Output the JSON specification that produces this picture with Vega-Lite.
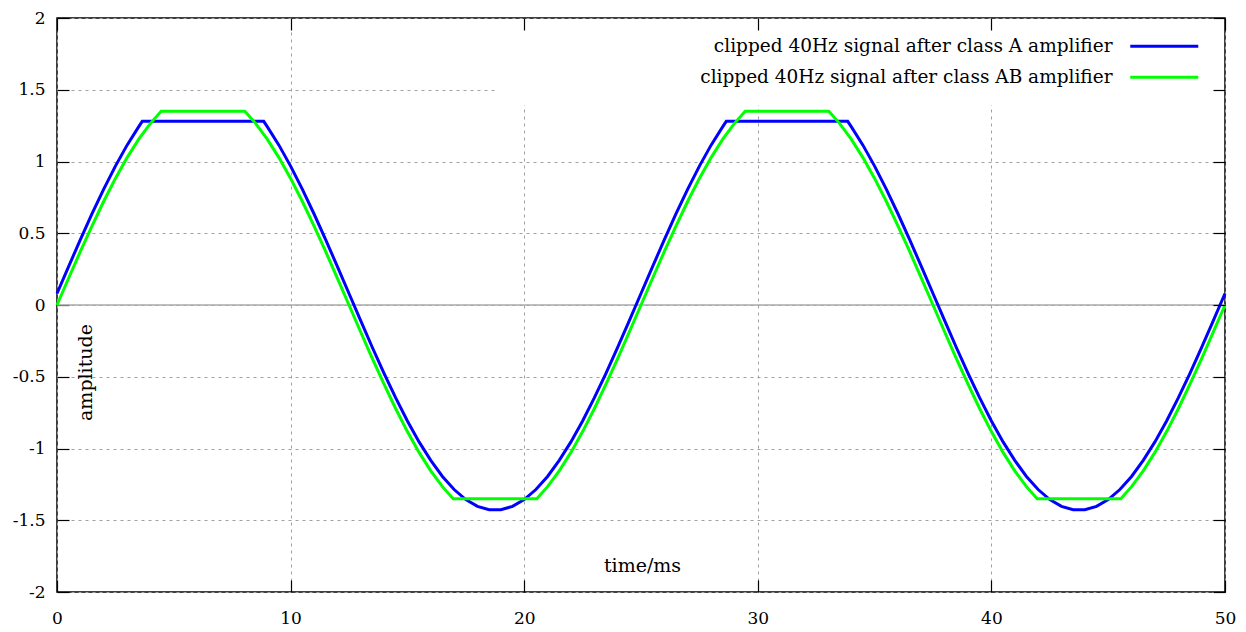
{
"$schema": "https://vega.github.io/schema/vega-lite/v6.json",
"width": 1168, "height": 574,
"autosize": {"type": "none"},
"padding": {"left": 57, "top": 18, "right": 21, "bottom": 40},
"background": "white",
"config": {
 "font": "DejaVu Serif",
 "view": {"stroke": "black", "strokeWidth": 1.5},
 "axis": {"domain": false, "tickColor": "black", "tickSize": -12, "tickWidth": 1.2,
  "labelFont": "DejaVu Serif", "labelFontSize": 17, "labelColor": "black", "labelFlush": false,
  "gridColor": "#a0a0a0", "gridDash": [3, 4], "gridWidth": 1,
  "titleFont": "DejaVu Serif", "titleFontSize": 19, "titleFontWeight": "normal", "titleColor": "black"}
},
"resolve": {"axis": {"x": "independent", "y": "independent"}},
"layer": [
 {
  "data": {"values": [{"x0": 0, "x1": 50, "z": 0}]},
  "mark": {"type": "rule", "color": "#aaaaaa", "strokeWidth": 1.5},
  "encoding": {
   "x": {"field": "x0", "type": "quantitative", "scale": {"domain": [0, 50], "nice": false, "zero": false},
    "axis": {"orient": "top", "labels": false, "grid": false, "title": null, "zindex": 1, "values": [0, 10, 20, 30, 40, 50]}},
   "x2": {"field": "x1"},
   "y": {"field": "z", "type": "quantitative", "scale": {"domain": [-2, 2], "nice": false},
    "axis": {"orient": "right", "labels": false, "grid": false, "title": null, "zindex": 1, "values": [-2, -1.5, -1, -0.5, 0, 0.5, 1, 1.5, 2]}}
  }
 },
 {
  "data": {"values": [
{"t":0,"v":0.08,"s":"A"},{"t":0.5,"v":0.269,"s":"A"},{"t":1,"v":0.456,"s":"A"},{"t":1.5,"v":0.636,"s":"A"},{"t":2,"v":0.807,"s":"A"},{"t":2.5,"v":0.968,"s":"A"},{"t":3,"v":1.114,"s":"A"},{"t":3.5,"v":1.243,"s":"A"},{"t":3.65,"v":1.28,"s":"A"},{"t":8.85,"v":1.28,"s":"A"},{"t":9,"v":1.243,"s":"A"},{"t":9.5,"v":1.114,"s":"A"},{"t":10,"v":0.968,"s":"A"},{"t":10.5,"v":0.807,"s":"A"},{"t":11,"v":0.636,"s":"A"},{"t":11.5,"v":0.456,"s":"A"},{"t":12,"v":0.269,"s":"A"},{"t":12.5,"v":0.08,"s":"A"},{"t":13,"v":-0.109,"s":"A"},{"t":13.5,"v":-0.296,"s":"A"},{"t":14,"v":-0.476,"s":"A"},{"t":14.5,"v":-0.647,"s":"A"},{"t":15,"v":-0.808,"s":"A"},{"t":15.5,"v":-0.954,"s":"A"},{"t":16,"v":-1.083,"s":"A"},{"t":16.5,"v":-1.195,"s":"A"},{"t":17,"v":-1.286,"s":"A"},{"t":17.5,"v":-1.356,"s":"A"},{"t":18,"v":-1.403,"s":"A"},{"t":18.5,"v":-1.427,"s":"A"},{"t":19,"v":-1.427,"s":"A"},{"t":19.5,"v":-1.403,"s":"A"},{"t":20,"v":-1.356,"s":"A"},{"t":20.5,"v":-1.286,"s":"A"},{"t":21,"v":-1.195,"s":"A"},{"t":21.5,"v":-1.083,"s":"A"},{"t":22,"v":-0.954,"s":"A"},{"t":22.5,"v":-0.808,"s":"A"},{"t":23,"v":-0.647,"s":"A"},{"t":23.5,"v":-0.476,"s":"A"},{"t":24,"v":-0.296,"s":"A"},{"t":24.5,"v":-0.109,"s":"A"},
{"t":25,"v":0.08,"s":"A"},{"t":25.5,"v":0.269,"s":"A"},{"t":26,"v":0.456,"s":"A"},{"t":26.5,"v":0.636,"s":"A"},{"t":27,"v":0.807,"s":"A"},{"t":27.5,"v":0.968,"s":"A"},{"t":28,"v":1.114,"s":"A"},{"t":28.5,"v":1.243,"s":"A"},{"t":28.65,"v":1.28,"s":"A"},{"t":33.85,"v":1.28,"s":"A"},{"t":34,"v":1.243,"s":"A"},{"t":34.5,"v":1.114,"s":"A"},{"t":35,"v":0.968,"s":"A"},{"t":35.5,"v":0.807,"s":"A"},{"t":36,"v":0.636,"s":"A"},{"t":36.5,"v":0.456,"s":"A"},{"t":37,"v":0.269,"s":"A"},{"t":37.5,"v":0.08,"s":"A"},{"t":38,"v":-0.109,"s":"A"},{"t":38.5,"v":-0.296,"s":"A"},{"t":39,"v":-0.476,"s":"A"},{"t":39.5,"v":-0.647,"s":"A"},{"t":40,"v":-0.808,"s":"A"},{"t":40.5,"v":-0.954,"s":"A"},{"t":41,"v":-1.083,"s":"A"},{"t":41.5,"v":-1.195,"s":"A"},{"t":42,"v":-1.286,"s":"A"},{"t":42.5,"v":-1.356,"s":"A"},{"t":43,"v":-1.403,"s":"A"},{"t":43.5,"v":-1.427,"s":"A"},{"t":44,"v":-1.427,"s":"A"},{"t":44.5,"v":-1.403,"s":"A"},{"t":45,"v":-1.356,"s":"A"},{"t":45.5,"v":-1.286,"s":"A"},{"t":46,"v":-1.195,"s":"A"},{"t":46.5,"v":-1.083,"s":"A"},{"t":47,"v":-0.954,"s":"A"},{"t":47.5,"v":-0.808,"s":"A"},{"t":48,"v":-0.647,"s":"A"},{"t":48.5,"v":-0.476,"s":"A"},{"t":49,"v":-0.296,"s":"A"},{"t":49.5,"v":-0.109,"s":"A"},{"t":50,"v":0.08,"s":"A"},
{"t":0,"v":0,"s":"AB"},{"t":0.5,"v":0.188,"s":"AB"},{"t":1,"v":0.373,"s":"AB"},{"t":1.5,"v":0.552,"s":"AB"},{"t":2,"v":0.723,"s":"AB"},{"t":2.5,"v":0.882,"s":"AB"},{"t":3,"v":1.027,"s":"AB"},{"t":3.5,"v":1.156,"s":"AB"},{"t":4,"v":1.266,"s":"AB"},{"t":4.46,"v":1.35,"s":"AB"},{"t":8.04,"v":1.35,"s":"AB"},{"t":8.5,"v":1.266,"s":"AB"},{"t":9,"v":1.156,"s":"AB"},{"t":9.5,"v":1.027,"s":"AB"},{"t":10,"v":0.882,"s":"AB"},{"t":10.5,"v":0.723,"s":"AB"},{"t":11,"v":0.552,"s":"AB"},{"t":11.5,"v":0.373,"s":"AB"},{"t":12,"v":0.188,"s":"AB"},{"t":12.5,"v":0,"s":"AB"},{"t":13,"v":-0.188,"s":"AB"},{"t":13.5,"v":-0.373,"s":"AB"},{"t":14,"v":-0.552,"s":"AB"},{"t":14.5,"v":-0.723,"s":"AB"},{"t":15,"v":-0.882,"s":"AB"},{"t":15.5,"v":-1.027,"s":"AB"},{"t":16,"v":-1.156,"s":"AB"},{"t":16.5,"v":-1.266,"s":"AB"},{"t":16.96,"v":-1.35,"s":"AB"},{"t":20.54,"v":-1.35,"s":"AB"},{"t":21,"v":-1.266,"s":"AB"},{"t":21.5,"v":-1.156,"s":"AB"},{"t":22,"v":-1.027,"s":"AB"},{"t":22.5,"v":-0.882,"s":"AB"},{"t":23,"v":-0.723,"s":"AB"},{"t":23.5,"v":-0.552,"s":"AB"},{"t":24,"v":-0.373,"s":"AB"},{"t":24.5,"v":-0.188,"s":"AB"},
{"t":25,"v":0,"s":"AB"},{"t":25.5,"v":0.188,"s":"AB"},{"t":26,"v":0.373,"s":"AB"},{"t":26.5,"v":0.552,"s":"AB"},{"t":27,"v":0.723,"s":"AB"},{"t":27.5,"v":0.882,"s":"AB"},{"t":28,"v":1.027,"s":"AB"},{"t":28.5,"v":1.156,"s":"AB"},{"t":29,"v":1.266,"s":"AB"},{"t":29.46,"v":1.35,"s":"AB"},{"t":33.04,"v":1.35,"s":"AB"},{"t":33.5,"v":1.266,"s":"AB"},{"t":34,"v":1.156,"s":"AB"},{"t":34.5,"v":1.027,"s":"AB"},{"t":35,"v":0.882,"s":"AB"},{"t":35.5,"v":0.723,"s":"AB"},{"t":36,"v":0.552,"s":"AB"},{"t":36.5,"v":0.373,"s":"AB"},{"t":37,"v":0.188,"s":"AB"},{"t":37.5,"v":0,"s":"AB"},{"t":38,"v":-0.188,"s":"AB"},{"t":38.5,"v":-0.373,"s":"AB"},{"t":39,"v":-0.552,"s":"AB"},{"t":39.5,"v":-0.723,"s":"AB"},{"t":40,"v":-0.882,"s":"AB"},{"t":40.5,"v":-1.027,"s":"AB"},{"t":41,"v":-1.156,"s":"AB"},{"t":41.5,"v":-1.266,"s":"AB"},{"t":41.96,"v":-1.35,"s":"AB"},{"t":45.54,"v":-1.35,"s":"AB"},{"t":46,"v":-1.266,"s":"AB"},{"t":46.5,"v":-1.156,"s":"AB"},{"t":47,"v":-1.027,"s":"AB"},{"t":47.5,"v":-0.882,"s":"AB"},{"t":48,"v":-0.723,"s":"AB"},{"t":48.5,"v":-0.552,"s":"AB"},{"t":49,"v":-0.373,"s":"AB"},{"t":49.5,"v":-0.188,"s":"AB"},{"t":50,"v":0,"s":"AB"}
  ]},
  "mark": {"type": "line", "strokeWidth": 3},
  "encoding": {
   "x": {"field": "t", "type": "quantitative",
    "axis": {"orient": "bottom", "title": "time/ms", "grid": true, "values": [0, 10, 20, 30, 40, 50], "labelPadding": 30, "labelFlush": false,
     "titleX": 585, "titleY": -27, "titleAlign": "center", "titleBaseline": "middle", "titleAngle": 0}},
   "y": {"field": "v", "type": "quantitative",
    "axis": {"orient": "left", "title": "amplitude", "grid": true, "values": [-2, -1.5, -1, -0.5, 0, 0.5, 1, 1.5, 2], "labelPadding": 24,
     "labelExpr": "'' + datum.value",
     "titleX": 28, "titleY": 354, "titleAlign": "center", "titleBaseline": "middle", "titleAngle": -90}},
   "color": {"field": "s", "type": "nominal", "scale": {"domain": ["A", "AB"], "range": ["#0000ff", "#00ff00"]},
    "legend": {"orient": "none", "legendX": 440, "legendY": 1, "direction": "vertical", "title": null,
     "symbolType": "M121.2,0H134.8", "symbolSize": 100, "symbolStrokeWidth": 3, "rowPadding": 12,
     "labelAlign": "right", "labelBaseline": "middle", "labelOffset": 579, "labelLimit": 600,
     "labelFontSize": 18.5, "labelFont": "DejaVu Serif", "labelColor": "black", "padding": 18,
     "fillColor": "white", "strokeColor": null,
     "labelExpr": "datum.value == 'A' ? 'clipped 40Hz signal after class A amplifier' : 'clipped 40Hz signal after class AB amplifier'"}}
  }
 }
]
}
